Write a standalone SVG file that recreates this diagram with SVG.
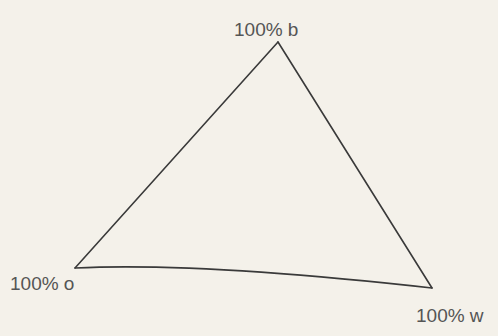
<svg xmlns="http://www.w3.org/2000/svg" width="498" height="336" viewBox="0 0 498 336">
<style>
.edge{fill:none;stroke:#3a3a3a;stroke-width:1.6;stroke-linecap:round}
.lbl{font-family:"Liberation Sans",Arial,sans-serif;font-size:19px;fill:#555}
</style>
<rect width="498" height="336" fill="#f4f1ea"/>
<g id="connectors">
<path class="edge" d="M278 42 L75 268"/>
<path class="edge" d="M278 42 L432 288"/>
<path class="edge" d="M75 268 Q200 262 432 288"/>
</g>
<g id="node-b"><text class="lbl" x="234" y="36">100% b</text></g>
<g id="node-o"><text class="lbl" x="10" y="290">100% o</text></g>
<g id="node-w"><text class="lbl" x="416" y="322">100% w</text></g>
</svg>
